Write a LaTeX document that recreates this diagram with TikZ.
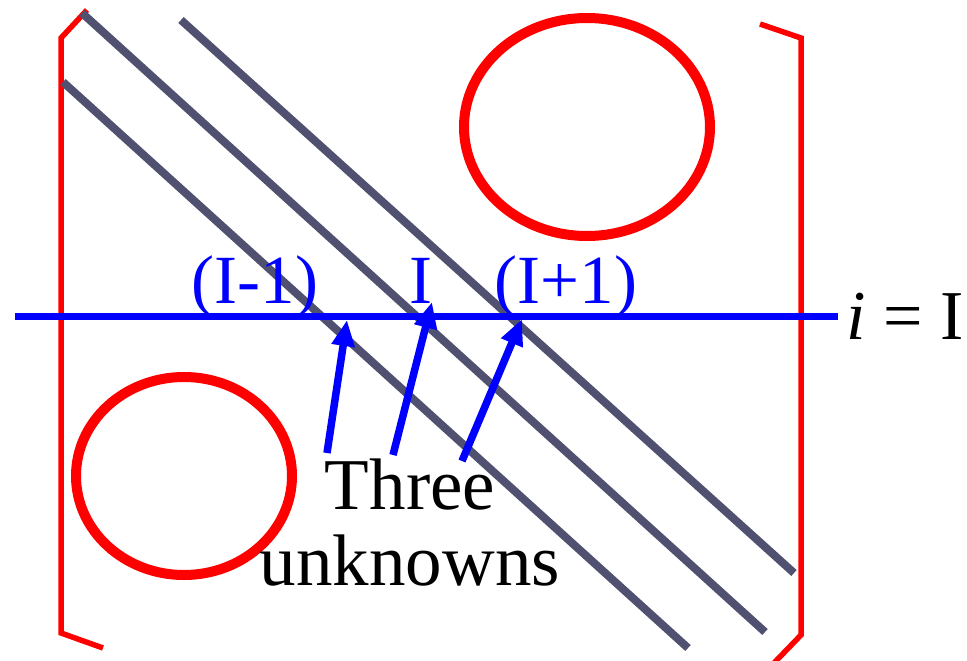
\documentclass[tikz,border=0pt]{standalone}
\usepackage{fontspec}
\setmainfont{Liberation Serif}
\usetikzlibrary{arrows.meta}
\tikzset{
  bracket/.style={draw=red, line width=5.5pt, line join=miter},
  diag/.style={draw=diagcol, line width=8pt},
  blob/.style={draw=red, line width=10pt},
  rowline/.style={draw=blue, line width=7pt},
  pointer/.style={draw=blue, line width=7.5pt, -{Triangle[length=26pt,width=22pt]}},
  bluelab/.style={text=blue, font=\fontsize{69}{76}\selectfont, inner sep=0pt, anchor=base},
  blacklab/.style={text=black, font=\fontsize{73}{76}\selectfont, inner sep=0pt},
}
\definecolor{diagcol}{RGB}{80,80,112}
\begin{document}
\begin{tikzpicture}[x=1pt,y=-1pt]
\useasboundingbox (0,0) rectangle (967,661);
% brackets
\draw[bracket] (87,10) -- (61,38) -- (61,633) -- (103,648);
\draw[bracket] (760,24) -- (801,38) -- (801,635) -- (773,664);
% diagonal bands
\draw[diag] (82,13) -- (765,632);
\draw[diag] (181,20) -- (794,573);
\draw[diag] (63,82) -- (688,648);
% zero regions
\draw[blob] (587,127) ellipse [x radius=123, y radius=109];
\draw[blob] (184,476) ellipse [x radius=108, y radius=99];
% row line
\coordinate (rowL) at (15,316);
\coordinate (rowR) at (838,316);
\draw[rowline] (rowL) -- (rowR);
% labels
\node[bluelab] (lm) at (255,303) {(I-1)};
\node[bluelab] (lc) at (421,303) {I};
\node[bluelab] (lp) at (566,303) {(I+1)};
\node[inner sep=0pt, anchor=base west, font=\fontsize{70}{76}\selectfont] (eq) at (846,339) {\textit{i} = I};
\node[blacklab, align=center, anchor=base] (three) at (410,585) {Three\\unknowns};
% pointers
\coordinate (t1) at (327,453);
\coordinate (h1) at (347,320);
\coordinate (t2) at (393,455);
\coordinate (h2) at (432,302);
\coordinate (t3) at (462,461);
\coordinate (h3) at (522,319);
\draw[pointer] (t1) -- (h1);
\draw[pointer] (t2) -- (h2);
\draw[pointer] (t3) -- (h3);
\end{tikzpicture}
\end{document}
